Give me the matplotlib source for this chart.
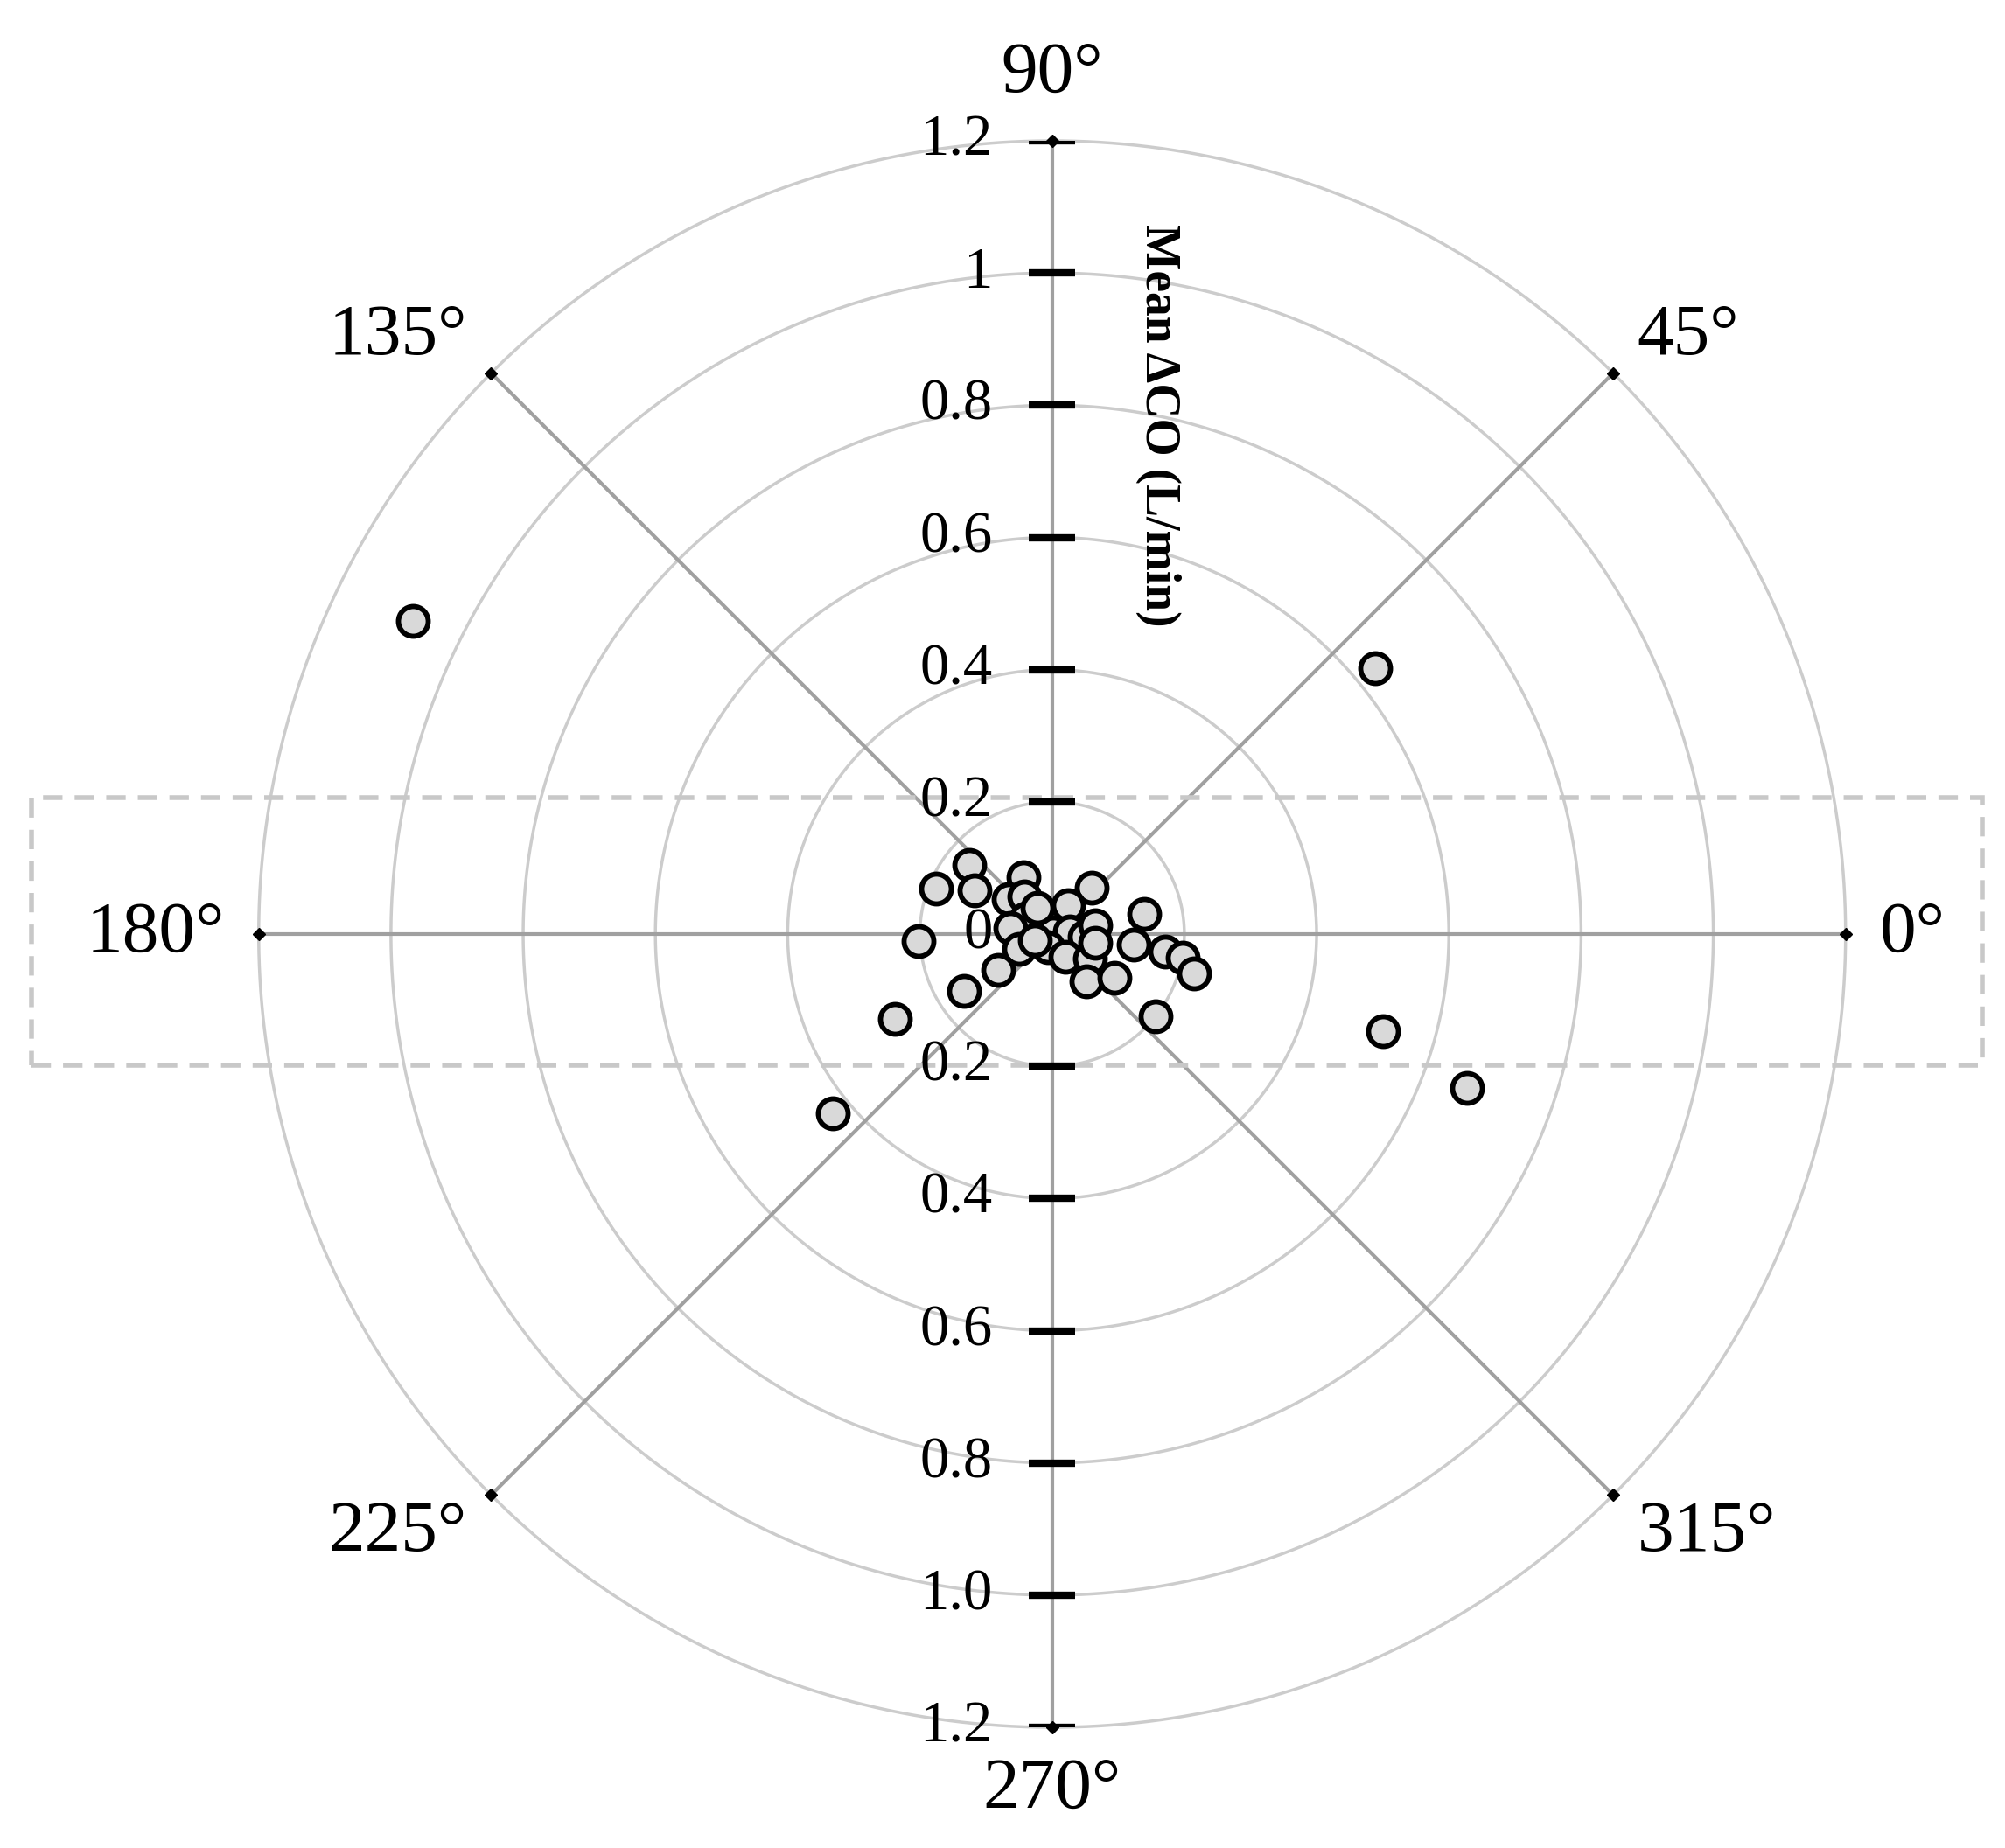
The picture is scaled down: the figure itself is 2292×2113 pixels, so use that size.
import numpy as np
import matplotlib.pyplot as plt
from matplotlib.patches import Rectangle

plt.rcParams['font.family'] = ['Liberation Serif', 'DejaVu Serif']

# direction (deg) and mean delta CO (L/min)
angle_deg = [153.9, 39.4, 343.6, 339.6, 219.3,
             140.1, 158.7, 150.8, 117.1, 141.3, 126.2, 148.6, 172.1, 183.1,
             203.5, 214.0, 212.8, 208.4, 49.8, 61.2, 59.0, 9.5, 354.8, 11.3,
             251.6, 299.4, 326.8, 306.0, 325.1, 12.5, 352.9, 351.3, 349.9,
             344.6, 321.5, 119.0, 198.0, 349.0]
mean_dco = [1.077, 0.633, 0.522, 0.669, 0.429,
            0.164, 0.189, 0.135, 0.096, 0.084, 0.071, 0.046, 0.064, 0.202,
            0.055, 0.098, 0.158, 0.270, 0.092, 0.050, 0.003, 0.027, 0.049, 0.067,
            0.021, 0.040, 0.068, 0.089, 0.115, 0.142, 0.124, 0.173, 0.200,
            0.223, 0.200, 0.045, 0.028, 0.067]

rings = [0.2, 0.4, 0.6, 0.8, 1.0, 1.2]
up_labels = ['0.2', '0.4', '0.6', '0.8', '1', '1.2']
down_labels = ['0.2', '0.4', '0.6', '0.8', '1.0', '1.2']
spoke_angles = [0, 45, 90, 135, 180, 225, 270, 315]

fig = plt.figure(figsize=(22.92, 21.13), dpi=100)
rect = [0.129, 0.0653, 0.7915, 0.8585]
ax = fig.add_axes(rect, projection='polar')
ax.set_ylim(0, 1.2)
ax.set_xticks([])
ax.set_yticks([])
ax.spines['polar'].set_visible(False)
ax.grid(False)

th = np.linspace(0, 2 * np.pi, 400)
for r in rings:
    ax.plot(th, np.full_like(th, r), color='#cccccc', lw=2.5, zorder=1, clip_on=False)
for a in spoke_angles:
    t = np.deg2rad(a)
    ax.plot([t, t], [0, 1.2], color='#a0a0a0', lw=3, zorder=1, clip_on=False)
    ax.plot([t], [1.2], marker='D', color='black', ms=7, zorder=3, clip_on=False)
    dx, dy = 28 * np.cos(t), 28 * np.sin(t)
    ha = 'center'
    if a in (0, 45, 315):
        ha = 'left'
    elif a in (135, 180, 225):
        ha = 'right'
    if a == 90:
        dy = 55
    if a == 270:
        dy = -52
    if a in (45, 135):
        dy += 10
    if a in (225, 315):
        dy -= 12
    ax.annotate('%d°' % a, xy=(t, 1.2), xytext=(dx, dy), textcoords='offset points',
                fontsize=60, ha=ha, va='center', annotation_clip=False)

ax.scatter(np.deg2rad(angle_deg), mean_dco, s=600, facecolor='#d9d9d9',
           edgecolor='black', linewidths=4.2, zorder=5, clip_on=False)

# cartesian overlay for the value axis and the dashed box
cx = fig.add_axes(rect)
cx.set_xlim(-1.2, 1.2)
cx.set_ylim(-1.2, 1.2)
cx.axis('off')
for r, lu, ld in zip(rings, up_labels, down_labels):
    cx.plot([-0.035, 0.035], [r, r], color='black', lw=6, solid_capstyle='butt')
    cx.plot([-0.035, 0.035], [-r, -r], color='black', lw=6, solid_capstyle='butt')
    cx.text(-0.09, r, lu, fontsize=48, ha='right', va='center')
    cx.text(-0.09, -r, ld, fontsize=48, ha='right', va='center')
cx.text(-0.09, 0, '0', fontsize=48, ha='right', va='center')
cx.text(0.16, 0.77, 'Mean ΔCO (L/min)', fontsize=40, fontweight='bold',
        rotation=-90, ha='center', va='center')
cx.add_patch(Rectangle((-1.544, -0.198), 2.951, 0.404, fill=False,
                       edgecolor='#c8c8c8', lw=4, ls=(0, (4, 2.5)),
                       clip_on=False))

plt.savefig('out.png', facecolor='w')
